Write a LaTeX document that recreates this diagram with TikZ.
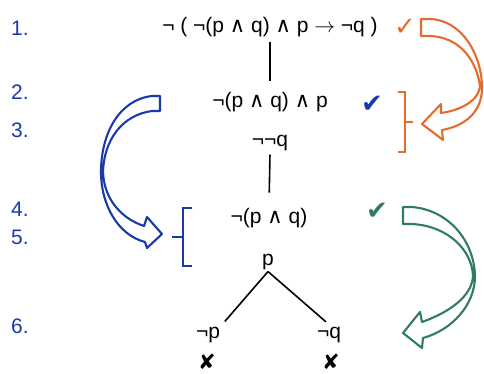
\documentclass[tikz,border=0pt]{standalone}
\usepackage{fontspec}
\setmainfont{Liberation Sans}
\newfontfamily\symfont{DejaVu Sans}
\usepackage{xcolor}
\usepackage{tikz}
\usetikzlibrary{positioning}

\definecolor{tabblue}{RGB}{26,58,170}
\definecolor{taborange}{RGB}{228,108,44}
\definecolor{tabgreen}{RGB}{46,125,92}

\newcommand{\wedgesym}{{\symfont\char"2227}}
\newcommand{\checksym}{{\symfont\char"2714}}
\newcommand{\lightcheck}{{\symfont\char"2713}}
\newcommand{\closedsym}{{\symfont\char"2718}}

\begin{document}
\begin{tikzpicture}[x=1pt, y=-1pt, font=\fontsize{21}{25}\selectfont,
  frm/.style={anchor=base, inner sep=2pt},
  num/.style={anchor=base west, inner sep=0pt, text=tabblue},
  tick/.style={anchor=center, inner sep=0pt, font=\fontsize{26}{30}\selectfont},
  edge/.style={line width=1.6pt},
  brack/.style={line width=1.8pt},
  bigarrow/.style={draw=#1, line width=2.1pt, fill=white, line join=round}]
\useasboundingbox (0,0) rectangle (484,374);
% --- line numbers ---
\node[num] (n1) at (11,36)  {1.};
\node[num] (n2) at (11,100) {2.};
\node[num] (n3) at (11,138) {3.};
\node[num] (n4) at (11,216) {4.};
\node[num] (n5) at (11,244) {5.};
\node[num] (n6) at (11,333) {6.};
% --- tableau ---
\node[frm] (f1) at (270,33)
  {¬ ( ¬(p \wedgesym{} q) \wedgesym{} p $\rightarrow$ ¬q )};
\node[frm] (f2) at (270,108) {¬(p \wedgesym{} q) \wedgesym{} p};
\node[frm] (f3) at (270,147) {¬¬q};
\node[frm] (f4) at (269,223) {¬(p \wedgesym{} q)};
\node[frm] (f5) at (268,265) {p};
\node[frm] (f6a) at (208,338) {¬p};
\node[frm] (f6b) at (329,338) {¬q};
\node[tick, font=\fontsize{21}{25}\selectfont] (x6a) at (207,362) {\closedsym};
\node[tick, font=\fontsize{21}{25}\selectfont] (x6b) at (331,362) {\closedsym};
\draw[edge, shorten <=2pt, shorten >=10pt] (f1.south) -- (f2.north);
\draw[edge, shorten <=1pt, shorten >=13pt] (f3.south) -- (f4.north);
\draw[edge, shorten >=4pt] (f5.south) -- (f6a.north east);
\draw[edge, shorten >=4pt] (f5.south) -- (f6b.north);
% --- checks ---
\node[tick, text=taborange] (c1) at (405,27)  {\lightcheck};
\node[tick, text=tabblue]   (c2) at (372,104) {\checksym};
\node[tick, text=tabgreen]  (c4) at (377,211) {\checksym};
% --- brackets ---
\draw[brack, taborange] (398,92) -- (405,92) -- (405,152) -- (398,152);
\draw[brack, taborange] (405,122) -- (413,122);
\draw[brack, tabblue] (192,208) -- (183,208) -- (183,266) -- (192,266);
\draw[brack, tabblue] (183,237) -- (172,237);
% --- curved arrows ---
\draw[bigarrow=taborange] (421,19) -- (430,19)
  .. controls (462,20) and (482,55) .. (482,88)
  .. controls (482,112) and (465,126) .. (442,130)
  -- (443,140) -- (422,124) -- (441,104) -- (441,113)
  .. controls (462,110) and (479,100) .. (480,86)
  .. controls (476,58) and (458,37) .. (430,36)
  -- (421,36) -- cycle;
\draw[bigarrow=tabblue] (160,96) -- (152,96)
  .. controls (118,100) and (101,135) .. (101,172)
  .. controls (101,205) and (118,235) .. (145,242)
  -- (147,248) -- (162,234) -- (147,217) -- (144,226)
  .. controls (120,218) and (104,198) .. (103,172)
  .. controls (104,140) and (122,115) .. (152,111)
  -- (160,111) -- cycle;
\draw[bigarrow=tabgreen] (403,207) -- (412,207)
  .. controls (448,210) and (474,240) .. (475,276)
  .. controls (475,305) and (452,330) .. (423,338)
  -- (422,348) -- (403,333) -- (420,312) -- (422,322)
  .. controls (450,312) and (472,296) .. (473,276)
  .. controls (472,250) and (448,226) .. (412,224)
  -- (403,224) -- cycle;
\end{tikzpicture}
\end{document}
